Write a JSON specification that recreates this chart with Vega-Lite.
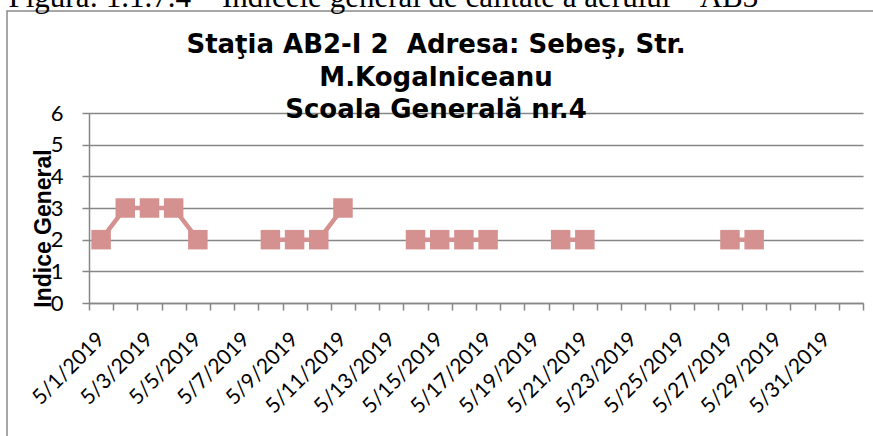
{
  "$schema": "https://vega.github.io/schema/vega-lite/v6.json",
  "autosize": "none",
  "padding": {"left": 7, "top": 11, "right": 0, "bottom": 0},
  "background": "white",
  "width": 880,
  "height": 430,
  "title": {
    "text": ["Staţia AB2-I 2\u00a0 Adresa: Sebeş, Str.", "M.Kogalniceanu", "Scoala Generală nr.4"],
    "font": "DejaVu Sans",
    "fontSize": 26,
    "fontWeight": "bold",
    "color": "black",
    "anchor": "middle",
    "lineHeight": 32.5,
    "baseline": "alphabetic",
    "offset": -163,
    "dx": -11
  },
  "data": {
    "values": [
      {"date": "5/1/2019", "value": 2},
      {"date": "5/2/2019", "value": 3},
      {"date": "5/3/2019", "value": 3},
      {"date": "5/4/2019", "value": 3},
      {"date": "5/5/2019", "value": 2},
      {"date": "5/6/2019", "value": null},
      {"date": "5/7/2019", "value": null},
      {"date": "5/8/2019", "value": 2},
      {"date": "5/9/2019", "value": 2},
      {"date": "5/10/2019", "value": 2},
      {"date": "5/11/2019", "value": 3},
      {"date": "5/12/2019", "value": null},
      {"date": "5/13/2019", "value": null},
      {"date": "5/14/2019", "value": 2},
      {"date": "5/15/2019", "value": 2},
      {"date": "5/16/2019", "value": 2},
      {"date": "5/17/2019", "value": 2},
      {"date": "5/18/2019", "value": null},
      {"date": "5/19/2019", "value": null},
      {"date": "5/20/2019", "value": 2},
      {"date": "5/21/2019", "value": 2},
      {"date": "5/22/2019", "value": null},
      {"date": "5/23/2019", "value": null},
      {"date": "5/24/2019", "value": null},
      {"date": "5/25/2019", "value": null},
      {"date": "5/26/2019", "value": null},
      {"date": "5/27/2019", "value": 2},
      {"date": "5/28/2019", "value": 2},
      {"date": "5/29/2019", "value": null},
      {"date": "5/30/2019", "value": null},
      {"date": "5/31/2019", "value": null},
      {"date": "6/1/2019", "value": null}
    ]
  },
  "encoding": {
    "y": {
      "field": "value",
      "type": "quantitative",
      "scale": {"domain": [0, 6], "range": [292, 102], "nice": false, "zero": true},
      "axis": {
        "title": "Indice General",
        "offset": -82,
        "values": [0, 1, 2, 3, 4, 5, 6],
        "tickSize": 7,
        "tickColor": "#878787",
        "tickWidth": 1.5,
        "domainColor": "#878787",
        "domainWidth": 1.5,
        "gridColor": "#878787",
        "gridWidth": 1.5,
        "labelFont": "Lato",
        "labelFontSize": 22,
        "labelColor": "black",
        "labelPadding": 19,
        "labelBaseline": "middle",
        "titleFont": "Liberation Sans",
        "titleFontSize": 23,
        "titleFontWeight": "bold",
        "titleColor": "black",
        "titleAngle": -90,
        "titleBaseline": "alphabetic",
        "titleAlign": "center",
        "titleX": -39,
        "titleY": 217
      }
    }
  },
  "layer": [
    {
      "mark": {"type": "line", "color": "#D4918F", "strokeWidth": 4.5, "invalid": "break-paths-show-domains"},
      "encoding": {
        "x": {
          "field": "date",
          "type": "ordinal",
          "sort": null,
          "scale": {"range": [82, 856], "paddingInner": 0, "paddingOuter": 0},
          "axis": {
            "title": null,
            "orient": "bottom",
            "offset": -138,
            "tickBand": "extent",
            "tickSize": 7,
            "tickColor": "#878787",
            "tickWidth": 1.5,
            "domainColor": "#878787",
            "domainWidth": 1.5,
            "labelAngle": -45,
            "labelAlign": "right",
            "labelBaseline": "middle",
            "labelPadding": 26,
            "labelFont": "Lato",
            "labelFontSize": 21,
            "labelColor": "black",
            "labelOverlap": false,
            "labelExpr": "(split(datum.value,'/')[0] == '5' && toNumber(split(datum.value,'/')[1]) % 2 == 1) ? datum.value : ''",
            "grid": false
          }
        }
      }
    },
    {
      "mark": {"type": "point", "shape": "square", "filled": true, "color": "#D4918F", "opacity": 1, "size": 380},
      "encoding": {
        "x": {
          "field": "date",
          "type": "ordinal",
          "sort": null,
          "scale": {"range": [82, 856], "paddingInner": 0, "paddingOuter": 0},
          "axis": {
            "orient": "top",
            "title": "Figura: 1.1.7.4 – Indicele general de calitate a aerului – AB3",
            "titleFont": "Liberation Serif",
            "titleFontSize": 31,
            "titleFontWeight": "normal",
            "titleColor": "black",
            "titleAnchor": "start",
            "titleAlign": "left",
            "titleBaseline": "alphabetic",
            "titleX": 1,
            "titleY": -5,
            "labels": false,
            "ticks": false,
            "domain": false,
            "grid": false
          }
        }
      }
    }
  ],
  "resolve": {"axis": {"x": "independent"}},
  "config": {
    "view": {"stroke": "#8a8a8a", "strokeWidth": 1.5},
    "axis": {"domainCap": "butt"}
  }
}
